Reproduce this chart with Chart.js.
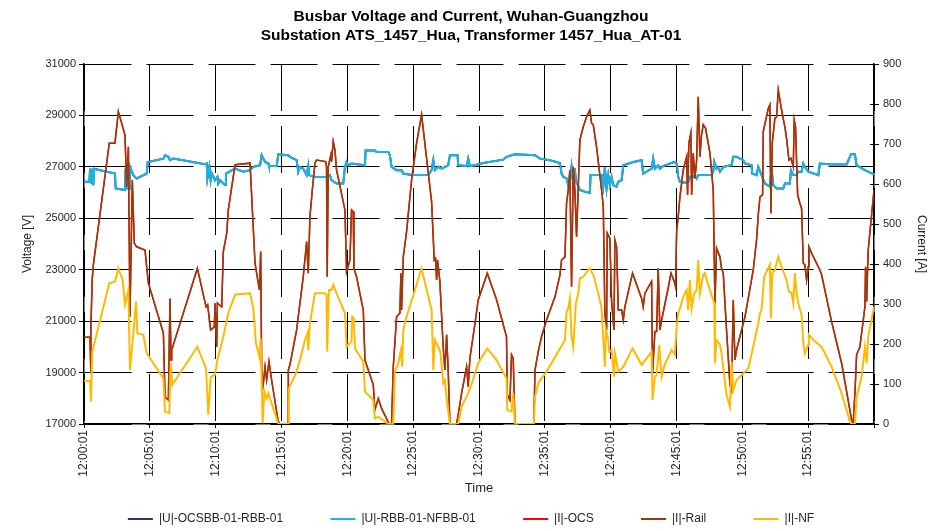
<!DOCTYPE html>
<html>
<head>
<meta charset="utf-8">
<script src="https://cdn.jsdelivr.net/npm/chart.js@4.4.1/dist/chart.umd.min.js"></script>
<style>
  html, body { margin: 0; padding: 0; background: #fff; }
  #wrap { width: 942px; height: 531px; }
</style>
</head>
<body>
<div id="wrap"><canvas id="busbarChart" width="942" height="531"></canvas></div>
<script>
// time axis: minutes after 12:00:01
const timeLabels = ['12:00:01', '12:05:01', '12:10:01', '12:15:01', '12:20:01', '12:25:01',
  '12:30:01', '12:35:01', '12:40:01', '12:45:01', '12:50:01', '12:55:01'];

const seriesNames = ['|U|-OCSBB-01-RBB-01', '|U|-RBB-01-NFBB-01', '|I|-OCS', '|I|-Rail', '|I|-NF'];

// |U| RBB-NFBB busbar voltage [V], [minute, value]
const voltageRbbNf = [[0,26420],[0.41,26420],[0.46,26930],[0.58,26350],[0.66,26930],[0.71,26290],[0.76,26930],[1.22,26870],
  [2.35,26740],[2.41,26160],[3.11,26100],[3.16,26930],[3.24,26160],[3.44,26160],[3.49,27000],[3.75,26680],[4.0,26550],
  [4.76,26740],[4.84,27190],[6.03,27320],[6.15,27450],[6.41,27390],[6.53,27260],[6.78,27320],[9.19,27100],[9.32,27130],
  [9.37,26550],[9.52,27000],[9.62,26480],[9.70,26740],[9.95,26480],[10.13,26610],[10.20,26350],[10.33,26480],[10.58,26350],
  [10.71,26290],[10.78,26740],[11.47,26930],[12.10,26810],[12.61,26870],[12.86,27000],[13.37,27060],[13.49,27450],
  [13.75,27190],[14.0,27130],[14.05,27030],[14.63,27030],[14.76,27490],[15.51,27450],[15.64,27390],[16.15,27260],
  [16.27,26810],[16.40,27000],[16.65,26930],[16.91,26680],[17.03,27030],[17.08,26680],[17.54,26610],[18.42,26610],
  [18.68,26680],[18.80,26480],[19.18,26350],[19.69,26350],[19.82,27000],[19.94,27190],[20.07,27060],[20.32,27130],
  [21.34,27060],[21.39,27640],[22.09,27640],[22.22,27580],[23.11,27580],[23.23,27450],[23.36,27000],[23.74,26870],
  [24.12,26870],[24.25,26740],[24.88,26680],[26.15,26680],[26.40,26870],[26.53,27260],[26.65,26870],[26.91,27000],
  [27.16,26930],[27.66,27060],[27.79,27450],[28.37,27450],[28.42,27060],[29.06,27030],[29.18,27320],[29.31,27030],
  [29.69,27060],[30.32,27150],[31.84,27280],[32.09,27390],[32.47,27450],[32.73,27490],[34.25,27450],[34.63,27320],
  [35.39,27260],[36.15,27150],[36.27,26740],[36.40,26610],[36.65,26550],[36.78,26290],[36.90,26420],[37.03,27000],
  [37.16,26350],[37.28,26930],[37.36,26420],[37.46,26350],[37.66,26100],[38.04,26030],[38.42,25990],[38.47,26680],
  [39.31,26680],[39.44,26230],[39.56,27000],[39.69,26160],[39.82,26680],[39.94,26290],[40.07,26610],[40.20,26290],
  [40.45,26230],[40.58,26420],[40.83,26480],[40.96,27060],[41.72,27190],[42.35,27260],[42.47,26740],[43.11,26930],
  [43.23,27320],[43.36,26930],[43.61,27060],[43.74,26930],[43.99,27030],[44.12,27060],[44.83,27190],[45.01,27130],
  [45.13,26610],[45.26,26420],[45.64,26380],[45.89,26420],[46.02,26610],[46.15,26550],[46.40,26680],[46.53,26550],
  [46.65,26680],[47.66,26680],[47.79,26810],[47.87,27190],[48.04,26930],[48.17,26970],[48.30,26810],[48.55,27000],
  [49.18,27060],[49.31,27390],[49.56,27390],[50.07,27260],[50.20,27130],[50.70,27060],[50.75,26740],[51.08,26680],
  [51.21,27000],[51.46,26680],[51.72,26350],[52.09,26230],[52.22,26930],[52.35,26290],[52.60,26160],[53.11,26160],
  [53.23,26350],[53.61,26350],[53.69,26870],[53.87,26680],[54.12,26680],[54.25,26810],[54.50,26810],[54.63,27130],
  [54.75,27000],[55.01,26810],[55.77,26680],[55.89,27130],[56.78,27090],[57.92,27090],[58.25,27490],[58.55,27490],
  [58.68,27060],[59.31,26870],[60,26710]];

// |I| rail current [A]
const currentRail = [[0,217],[0.46,217],[0.51,127],[0.53,243],[0.63,364],[0.71,398],[1.92,702],[2.35,702],[2.61,781],
  [3.11,723],[3.24,593],[3.37,693],[3.49,268],[3.67,610],[3.82,452],[4.0,443],[4.63,435],[4.89,352],[6.03,227],[6.15,68],
  [6.41,60],[6.53,314],[6.61,160],[6.66,185],[8.61,389],[9.27,293],[9.39,298],[9.62,235],[9.90,243],[9.95,302],[10.08,193],
  [10.13,302],[10.46,293],[10.58,431],[10.84,477],[10.96,535],[11.47,648],[12.61,652],[12.99,402],[13.32,335],[13.42,431],
  [13.49,143],[13.57,85],[13.75,143],[13.87,110],[14.05,156],[14.25,110],[14.75,6],[14.80,0],[15.51,0],[15.52,135],
  [15.64,148],[16.15,235],[16.27,268],[16.65,368],[16.91,456],[17.03,377],[17.16,518],[17.34,585],[17.54,652],[17.66,660],
  [18.35,656],[18.42,643],[18.47,368],[18.55,643],[18.75,673],[18.80,656],[18.93,706],[19.06,685],[19.18,635],[19.82,535],
  [19.94,381],[20.20,410],[20.32,535],[20.45,531],[20.50,389],[20.70,368],[21.21,285],[21.34,160],[21.97,98],[22.09,35],
  [22.35,64],[22.60,39],[23.18,0],[23.36,0],[23.49,143],[23.74,268],[23.99,277],[24.07,377],[24.12,285],[24.25,418],
  [24.50,481],[24.88,610],[25.26,702],[25.64,773],[26.02,664],[26.40,556],[26.60,410],[26.70,414],[26.78,360],[26.85,410],
  [27.03,356],[27.28,193],[27.41,135],[27.54,223],[27.66,135],[27.79,0],[28.30,0],[28.42,23],[28.68,77],[29.06,143],
  [29.18,93],[29.31,165],[29.69,250],[29.94,310],[30.63,377],[31.34,310],[32.09,218],[32.15,73],[32.35,60],[32.47,173],
  [32.60,164],[32.73,0],[34.17,0],[34.25,135],[34.50,181],[34.75,218],[35.13,260],[35.77,318],[36.15,373],[36.27,410],
  [36.53,418],[36.65,552],[36.78,585],[36.90,635],[37.03,343],[37.16,643],[37.28,585],[37.41,468],[37.54,593],[37.66,710],
  [37.92,743],[38.17,768],[38.42,785],[38.55,752],[38.68,748],[38.93,693],[39.31,585],[39.44,543],[39.56,277],[39.69,235],
  [39.74,477],[39.94,464],[40.07,306],[40.25,235],[40.32,460],[40.45,443],[40.58,285],[40.83,285],[40.96,260],[41.08,293],
  [41.66,377],[42.35,314],[42.47,293],[42.60,327],[43.11,356],[43.18,127],[43.36,231],[43.49,231],[43.61,389],[43.74,235],
  [43.87,260],[44.12,300],[44.37,340],[44.58,377],[44.83,356],[44.93,343],[45.01,481],[45.13,518],[45.26,568],[45.39,602],
  [45.51,635],[45.64,652],[45.77,668],[45.84,573],[45.94,702],[46.09,727],[46.15,573],[46.27,677],[46.40,614],[46.53,660],
  [46.65,818],[46.78,668],[46.90,723],[47.03,748],[47.21,739],[47.54,677],[47.79,585],[47.92,302],[48.04,439],[48.30,418],
  [48.42,389],[48.55,377],[48.80,235],[49.06,98],[49.18,85],[49.31,310],[49.44,160],[49.56,185],[50.20,268],[50.83,385],
  [51.08,460],[51.21,523],[51.34,568],[51.54,573],[51.59,731],[51.97,789],[52.09,798],[52.17,527],[52.27,702],[52.47,764],
  [52.60,768],[52.73,835],[52.98,785],[53.23,743],[53.36,714],[53.54,660],[53.69,664],[53.87,643],[53.94,760],[54.04,743],
  [54.20,573],[54.37,552],[54.50,539],[54.63,402],[54.75,398],[54.88,360],[55.01,393],[55.06,443],[55.26,427],[55.89,385],
  [56.02,373],[56.78,256],[57.54,152],[58.30,10],[58.42,2],[58.55,77],[58.68,173],[58.93,193],[59.31,293],[59.36,393],
  [59.44,306],[59.56,435],[60,585]];

// |I| NF current [A]
const currentNf = [[0,108],[0.46,108],[0.53,56],[0.63,181],[1.92,352],[2.35,356],[2.61,389],[2.94,360],[3.11,298],
  [3.37,335],[3.49,135],[3.75,227],[3.95,306],[4.05,227],[4.51,223],[4.76,177],[6.03,114],[6.15,31],[6.48,27],[6.58,152],
  [6.71,98],[8.61,193],[9.27,139],[9.44,23],[9.62,118],[9.95,123],[10.13,160],[10.58,218],[10.96,277],[11.47,323],
  [12.61,327],[12.86,289],[13.06,202],[13.32,168],[13.42,214],[13.57,2],[13.70,81],[13.87,64],[14.0,77],[14.25,52],
  [14.76,0],[15.51,0],[15.56,89],[16.15,131],[16.40,160],[16.78,210],[16.98,227],[17.03,185],[17.16,252],[17.54,327],
  [18.30,327],[18.42,323],[18.47,181],[18.60,335],[18.80,335],[18.93,348],[19.18,327],[19.82,277],[19.94,193],[20.32,206],
  [20.37,268],[20.50,264],[20.58,189],[21.21,156],[21.34,81],[21.97,60],[22.09,14],[22.35,18],[23.11,0],[23.49,0],
  [23.61,131],[23.87,152],[24.07,185],[24.17,143],[24.25,235],[24.50,268],[25.64,389],[26.40,285],[26.53,135],[26.65,210],
  [26.91,193],[27.08,177],[27.28,102],[27.41,110],[27.54,64],[27.79,0],[28.42,0],[28.68,43],[29.18,77],[29.44,100],
  [29.94,152],[30.63,189],[31.34,160],[32.09,114],[32.15,35],[32.47,31],[32.60,77],[32.73,0],[34.17,0],[34.25,68],
  [34.50,102],[35.13,131],[36.53,210],[36.65,281],[36.78,289],[36.90,314],[37.03,218],[37.16,193],[37.36,302],[37.54,327],
  [37.66,364],[37.92,368],[38.30,385],[38.42,389],[38.68,373],[39.06,327],[39.31,289],[39.56,143],[39.64,235],[39.82,210],
  [39.89,181],[40.07,185],[40.25,118],[40.32,177],[40.58,131],[40.96,143],[41.66,189],[42.35,148],[43.11,181],[43.18,60],
  [43.36,118],[43.49,123],[43.69,198],[43.87,118],[44.12,150],[44.63,185],[44.88,173],[45.01,243],[45.13,277],[45.26,289],
  [45.51,318],[45.77,335],[45.89,285],[46.02,360],[46.15,289],[46.35,327],[46.53,335],[46.65,410],[46.78,327],[47.03,373],
  [47.16,377],[47.41,348],[47.87,302],[47.92,152],[48.04,210],[48.30,198],[48.42,177],[48.80,73],[49.06,43],[49.18,156],
  [49.31,85],[49.44,98],[49.56,110],[50.45,139],[50.83,193],[51.21,252],[51.34,277],[51.46,285],[51.66,368],[52.09,398],
  [52.17,264],[52.27,377],[52.47,385],[52.73,418],[52.98,393],[53.36,360],[53.54,331],[53.74,327],[53.87,302],[53.99,377],
  [54.12,327],[54.25,302],[54.50,273],[54.63,202],[54.75,177],[55.01,198],[55.06,223],[55.39,210],[56.02,193],[56.78,143],
  [57.54,77],[58.17,6],[58.30,0],[58.55,0],[58.68,68],[59.06,118],[59.31,193],[59.44,152],[59.56,218],[60,293]];

// OCS quantities lie exactly under the RBB/rail traces in the picture
const voltageOcsRbb = voltageRbbNf;
const currentOcs = currentRail;

const toXY = (arr) => arr.map(p => ({ x: p[0], y: p[1] }));

const txt = '#262626';
const fam = "'Liberation Sans', Arial, sans-serif";
const legendGap = ' '.repeat(10); // extra room between legend entries

const series = [
  { data: voltageOcsRbb, color: '#1f3864', axis: 'y', width: 2, order: 5 },
  { data: voltageRbbNf, color: '#1ab4e8', axis: 'y', width: 2, order: 4 },
  { data: currentOcs, color: '#ff0000', axis: 'y1', width: 1.5, order: 3 },
  { data: currentRail, color: '#9c3a0a', axis: 'y1', width: 1.5, order: 2 },
  { data: currentNf, color: '#ffba00', axis: 'y1', width: 2, order: 1 }
];

const ctx = document.getElementById('busbarChart').getContext('2d');
new Chart(ctx, {
  type: 'line',
  data: {
    datasets: series.map((s, i) => ({
      label: seriesNames[i],
      data: toXY(s.data),
      borderColor: s.color,
      backgroundColor: s.color,
      borderWidth: s.width,
      pointRadius: 0,
      tension: 0,
      yAxisID: s.axis,
      order: s.order
    }))
  },
  options: {
    responsive: false,
    animation: false,
    devicePixelRatio: 1,
    layout: { padding: { top: 0, left: 0, right: 0, bottom: -4 } },
    plugins: {
      tooltip: { enabled: false },
      title: {
        display: true,
        text: ['Busbar Voltage and Current, Wuhan-Guangzhou', 'Substation ATS_1457_Hua, Transformer 1457_Hua_AT-01'],
        color: '#000',
        font: { family: fam, size: 15.5, weight: 'bold', lineHeight: '19px' },
        padding: { top: 7.5, bottom: 18.5 }
      },
      legend: {
        position: 'bottom',
        labels: {
          color: txt,
          font: { family: fam, size: 12 },
          usePointStyle: true,
          pointStyle: 'line',
          pointStyleWidth: 25,
          padding: 14,
          sort: (a, b) => a.datasetIndex - b.datasetIndex,
          generateLabels: (chart) => {
            const items = Chart.defaults.plugins.legend.labels.generateLabels(chart);
            return items.map(l => Object.assign(l, {
              lineWidth: 2,
              text: l.datasetIndex < seriesNames.length - 1 ? l.text + legendGap : l.text
            }));
          }
        }
      }
    },
    scales: {
      x: {
        type: 'linear',
        position: 'bottom',
        min: 0,
        max: 60,
        afterFit: (s) => { s.height = 75; },
        ticks: {
          stepSize: 5,
          autoSkip: false,
          minRotation: 90,
          maxRotation: 90,
          padding: 2,
          color: txt,
          font: { family: fam, size: 12 },
          callback: (v) => timeLabels[Math.round(v / 5)] || ''
        },
        grid: { color: '#000', lineWidth: 1, tickLength: 4 },
        border: { color: '#000', width: 1.5, dash: [47, 15] },
        title: { display: true, text: 'Time', color: txt, font: { family: fam, size: 13 }, padding: { bottom: 3.2 } }
      },
      y: {
        position: 'left',
        min: 17000,
        max: 31000,
        afterFit: (s) => { s.width = 84; },
        ticks: { stepSize: 2000, padding: 3, color: txt, font: { family: fam, size: 11 }, callback: (v) => String(v) },
        grid: { color: '#000', lineWidth: 1, tickLength: 5 },
        border: { color: '#000', width: 1.5, dash: [47, 15] },
        title: { display: true, text: 'Voltage [V]', color: txt, font: { family: fam, size: 12 }, padding: { top: 20 } }
      },
      y1: {
        position: 'right',
        min: 0,
        max: 900,
        afterFit: (s) => { s.width = 68; },
        ticks: { stepSize: 100, padding: 4, color: txt, font: { family: fam, size: 11 }, callback: (v) => String(v) },
        // short inner stubs only: cross-type tick marks on the current axis
        grid: { color: '#000', lineWidth: 1, tickLength: 5 },
        border: { color: '#000', width: 1.5, dash: [0, 786, 4, 40] },
        title: { display: true, text: 'Current [A]', color: txt, font: { family: fam, size: 12 }, padding: { top: 13.8 } }
      }
    }
  }
});
</script>
</body>
</html>
